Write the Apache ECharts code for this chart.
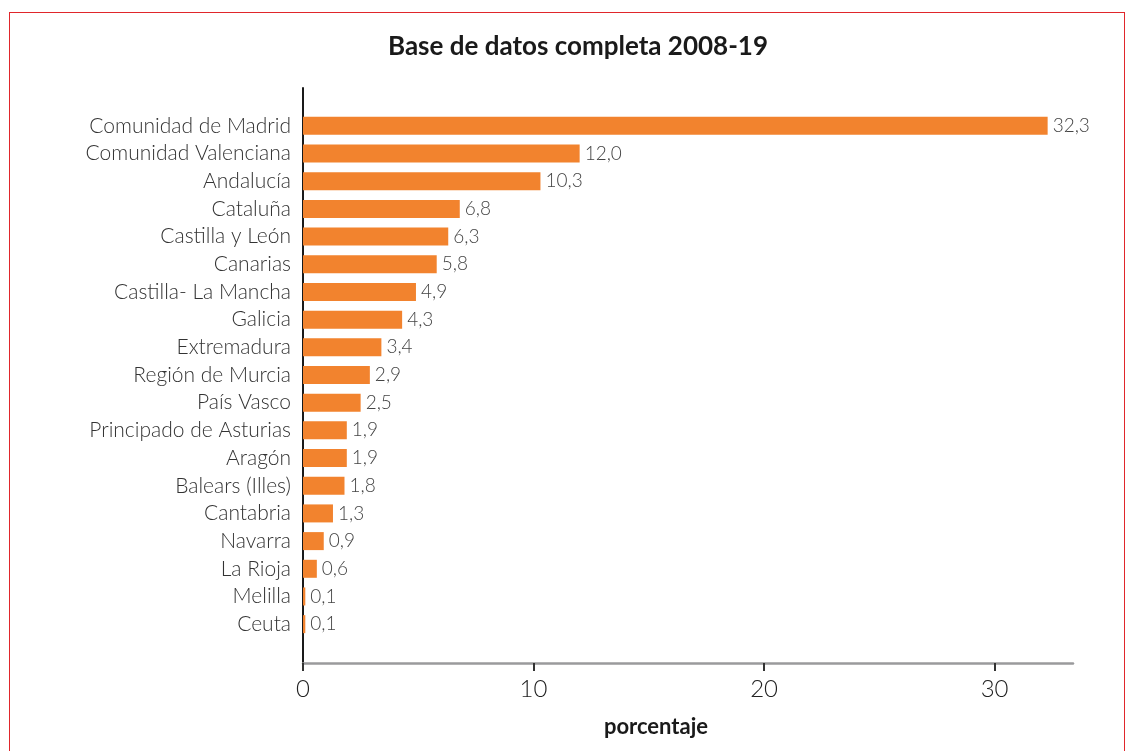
<!DOCTYPE html>
<html>
<head>
<meta charset="utf-8">
<script src="https://cdn.jsdelivr.net/npm/echarts@6/dist/echarts.min.js"></script>
<style>
  html, body { margin: 0; padding: 0; background: #fff; overflow: hidden; }
  #frame { position: absolute; left: 9px; top: 12px; width: 1116px; height: 800px; border: 1px solid #e0262b; box-sizing: border-box; }
  #chart { position: absolute; left: 0; top: 0; width: 1128px; height: 751px; }
</style>
</head>
<body>
<div id="frame"></div>
<div id="chart"></div>
<script>
// comunidades autónomas, de mayor a menor
const regiones = ['Comunidad de Madrid', 'Comunidad Valenciana', 'Andalucía', 'Cataluña', 'Castilla y León', 'Canarias', 'Castilla- La Mancha', 'Galicia', 'Extremadura', 'Región de Murcia', 'País Vasco', 'Principado de Asturias', 'Aragón', 'Balears (Illes)', 'Cantabria', 'Navarra', 'La Rioja', 'Melilla', 'Ceuta']
const porcentajes = [32.3, 12.0, 10.3, 6.8, 6.3, 5.8, 4.9, 4.3, 3.4, 2.9, 2.5, 1.9, 1.9, 1.8, 1.3, 0.9, 0.6, 0.1, 0.1]
const ejeMax = 33.4

const fuente = 'Lato'
const chart = echarts.init(document.getElementById('chart'))

const option = {
  animation: false,
  title: [
    {
      text: 'Base de datos completa 2008-19',
      left: 573,
      top: 29,
      textAlign: 'center',
      textStyle: { fontFamily: fuente, fontWeight: 'bold', fontSize: 26, color: '#1a1a1a' }
    },
    {
      // nombre del eje x
      text: 'porcentaje',
      left: 651,
      top: 711,
      textAlign: 'center',
      textStyle: { fontFamily: fuente, fontWeight: 'bold', fontSize: 22, color: '#1a1a1a' }
    }
  ],
  grid: [
    // barras
    { left: 303, right: 55, top: 112, height: 526 },
    // ejes visibles
    { left: 303, right: 55, top: 88, bottom: 88 }
  ],
  xAxis: [
    { gridIndex: 0, type: 'value', min: 0, max: ejeMax, show: false },
    {
      gridIndex: 1,
      type: 'value',
      min: 0,
      max: ejeMax,
      interval: 10,
      splitLine: { show: false },
      axisLine: { lineStyle: { color: '#9a9a9c', width: 2.5 } },
      axisTick: { length: 8, lineStyle: { color: '#333', width: 2 } },
      axisLabel: { showMaxLabel: false, margin: 14, fontFamily: fuente, fontWeight: 300, fontSize: 24, color: '#222' }
    }
  ],
  yAxis: [
    {
      gridIndex: 0,
      type: 'category',
      inverse: true,
      data: regiones,
      axisLine: { show: false },
      axisTick: { show: false },
      axisLabel: { margin: 12, fontFamily: fuente, fontWeight: 300, fontSize: 21, color: '#333' }
    },
    {
      gridIndex: 1,
      type: 'value',
      min: 0,
      max: 1,
      axisLine: { show: true, lineStyle: { color: '#1a1a1a', width: 2 } },
      axisTick: { show: false },
      axisLabel: { show: false },
      splitLine: { show: false }
    }
  ],
  series: [
    {
      type: 'bar',
      xAxisIndex: 0,
      yAxisIndex: 0,
      data: porcentajes,
      barWidth: 18,
      itemStyle: { color: '#f2832e' },
      label: {
        show: true,
        position: 'right',
        distance: 5,
        fontFamily: fuente,
        fontWeight: 300,
        fontSize: 19,
        color: '#444',
        formatter: p => p.value.toFixed(1).replace('.', ',')
      }
    }
  ]
}

chart.setOption(option)
</script>
</body>
</html>
